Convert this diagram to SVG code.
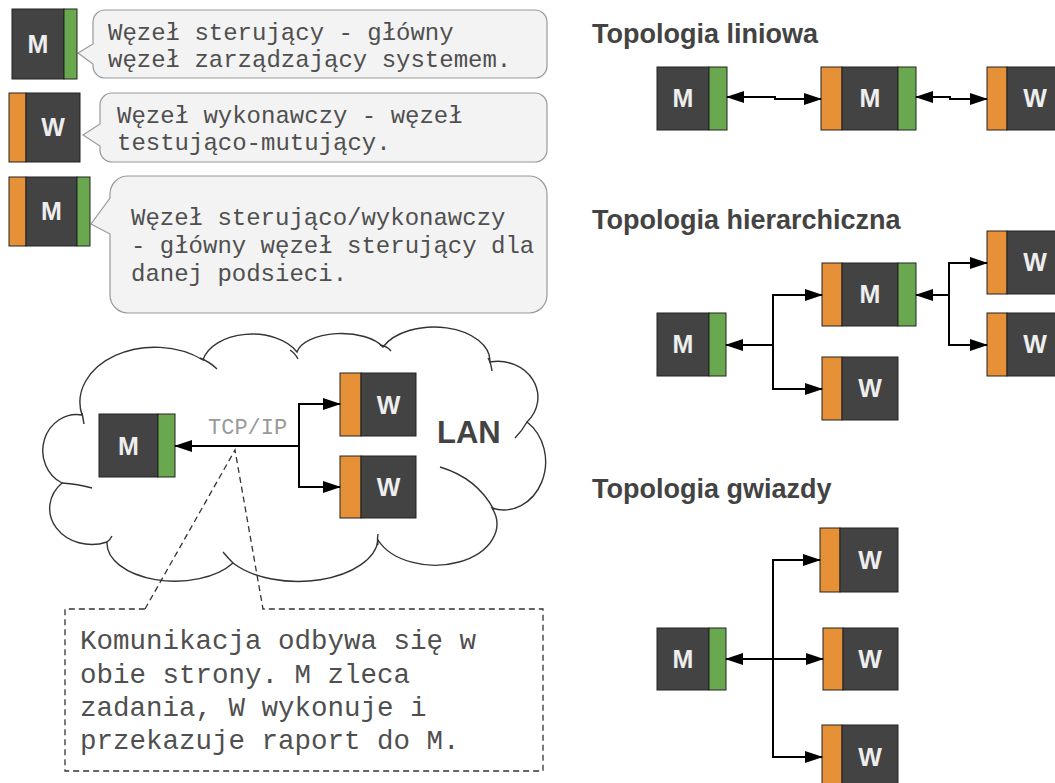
<svg xmlns="http://www.w3.org/2000/svg" width="1055" height="783" viewBox="0 0 1055 783">
<style>
.dk{fill:#434343;stroke:#222;stroke-width:1}
.or{fill:#e69138;stroke:#222;stroke-width:1}
.gr{fill:#6aa84f;stroke:#222;stroke-width:1}
.lbl{font-family:"Liberation Sans",Arial,sans-serif;font-weight:bold;font-size:25px;fill:#eeeeee;text-anchor:middle}
.ttl{font-family:"Liberation Sans",Arial,sans-serif;font-weight:bold;font-size:27px;fill:#434343}
.mono{font-family:"Liberation Mono","Courier New",monospace;font-size:24px;fill:#4f4f4f}
.bub{fill:#f3f3f3;stroke:#999;stroke-width:1.2}
.con{fill:none;stroke:#000;stroke-width:2}
.cloud{fill:#fff;stroke:#333;stroke-width:1.4}
.tail{fill:none;stroke:#333;stroke-width:1.4}
.dash{fill:none;stroke:#333;stroke-width:1.3;stroke-dasharray:6 4}
</style>
<defs>
<marker id="ah" markerUnits="userSpaceOnUse" markerWidth="18" markerHeight="12" refX="17" refY="6" orient="auto-start-reverse">
<path d="M0,0 L18,6 L0,12 Z" fill="#000"/>
</marker>
</defs>

<!-- Legend -->
<g id="legend-bubble-1">
<path class="bub" d="M105,10 H535 A12,12 0 0 1 547,22 V66 A12,12 0 0 1 535,78 H105 A12,12 0 0 1 93,66 V64 L78,53 L93,44 V22 A12,12 0 0 1 105,10 Z"/>
<text class="mono" x="108" y="40">Węzeł sterujący - główny</text>
<text class="mono" x="108" y="67">węzeł zarządzający systemem.</text>
</g>
<g id="legend-bubble-2">
<path class="bub" d="M112,93 H535 A12,12 0 0 1 547,105 V150 A12,12 0 0 1 535,162 H112 A12,12 0 0 1 100,150 V146 L83,135 L100,124 V105 A12,12 0 0 1 112,93 Z"/>
<text class="mono" x="117" y="123">Węzeł wykonawczy - węzeł</text>
<text class="mono" x="117" y="150">testująco-mutujący.</text>
</g>
<g id="legend-bubble-3">
<path class="bub" d="M128,176 H529 A18,18 0 0 1 547,194 V295 A18,18 0 0 1 529,313 H128 A18,18 0 0 1 110,295 V234 L91,224 L110,198 V194 A18,18 0 0 1 128,176 Z"/>
<text class="mono" x="131" y="225">Węzeł sterująco/wykonawczy</text>
<text class="mono" x="131" y="253">- główny węzeł sterujący dla</text>
<text class="mono" x="131" y="281">danej podsieci.</text>
</g>
<g id="legend-m">
<rect class="dk" x="12" y="9" width="52" height="70"/>
<rect class="gr" x="64" y="9" width="13" height="70"/>
<text class="lbl" x="38" y="53">M</text>
</g>
<g id="legend-w">
<rect class="or" x="9" y="93" width="17" height="69"/>
<rect class="dk" x="26" y="93" width="54" height="69"/>
<text class="lbl" x="53" y="136">W</text>
</g>
<g id="legend-mw">
<rect class="or" x="9" y="177" width="17" height="69"/>
<rect class="dk" x="26" y="177" width="51" height="69"/>
<rect class="gr" x="77" y="177" width="13" height="69"/>
<text class="lbl" x="51.5" y="220">M</text>
</g>

<!-- LAN cloud -->
<g id="lan-cloud">
<path class="cloud" d="M82,415 A75,55 0 0 1 203,360 A50,32 0 0 1 297,352 A45,22 0 0 1 383,347 A56,34 0 0 1 490,362 A40,36 0 0 1 527,422 A42,48 0 0 1 492,508 A60,40 0 0 1 378,540 A80,44 0 0 1 233,563 A68,38 0 0 1 107,542 A42,36 0 0 1 62,483 A34,36 0 0 1 82,415 Z"/>
<path class="tail" d="M200,358 Q210,362 217,369 M290,350 Q295,353 298,359 M380,345 Q387,346 391,351 M488,358 Q491,363 492,371 M527,422 Q522,431 515,438 M440,467 Q477,478 494,510 M378,545 Q377,540 378,534 M233,563 Q228,558 223,552 M107,542 Q110,540 112,536 M62,483 Q78,484 92,488 M82,413 Q83,418 84,424"/>
<text x="437" y="443" style="font-family:'Liberation Sans',Arial,sans-serif;font-weight:bold;font-size:31px;fill:#434343">LAN</text>
</g>
<g id="lan-m">
<rect class="dk" x="99" y="414" width="59" height="63"/>
<rect class="gr" x="158" y="414" width="17" height="63"/>
<text class="lbl" x="128.5" y="455">M</text>
</g>
<g id="lan-w1">
<rect class="or" x="340" y="373" width="21" height="63"/>
<rect class="dk" x="361" y="373" width="55" height="63"/>
<text class="lbl" x="388.5" y="414">W</text>
</g>
<g id="lan-w2">
<rect class="or" x="340" y="456" width="21" height="62"/>
<rect class="dk" x="361" y="456" width="55" height="62"/>
<text class="lbl" x="388.5" y="496">W</text>
</g>

<!-- Note callout -->
<g id="note">
<path class="dash" d="M145,609 L235,450 L263,609 H543 V771 H65 V609 Z"/>
<text class="mono" style="font-size:27.5px" x="80" y="649">Komunikacja odbywa się w</text>
<text class="mono" style="font-size:27.5px" x="80" y="683">obie strony. M zleca</text>
<text class="mono" style="font-size:27.5px" x="80" y="716">zadania, W wykonuje i</text>
<text class="mono" style="font-size:27.5px" x="80" y="749">przekazuje raport do M.</text>
</g>

<!-- Titles -->
<text class="ttl" x="592" y="43">Topologia liniowa</text>
<text class="ttl" x="592" y="229">Topologia hierarchiczna</text>
<text class="ttl" x="592" y="498">Topologia gwiazdy</text>

<!-- Linear topology -->
<g id="lin-m1">
<rect class="dk" x="657" y="67" width="52" height="63"/>
<rect class="gr" x="709" y="67" width="18" height="63"/>
<text class="lbl" x="683" y="107">M</text>
</g>
<g id="lin-m2">
<rect class="or" x="821" y="67" width="21" height="63"/>
<rect class="dk" x="842" y="67" width="56" height="63"/>
<rect class="gr" x="898" y="67" width="18" height="63"/>
<text class="lbl" x="870" y="107">M</text>
</g>
<g id="lin-w">
<rect class="or" x="987" y="67" width="20" height="63"/>
<rect class="dk" x="1007" y="67" width="56" height="63"/>
<text class="lbl" x="1035" y="107">W</text>
</g>

<!-- Hierarchical topology -->
<g id="hier-m-left">
<rect class="dk" x="657" y="313" width="52" height="63"/>
<rect class="gr" x="709" y="313" width="17" height="63"/>
<text class="lbl" x="683" y="353">M</text>
</g>
<g id="hier-m-mid">
<rect class="or" x="822" y="263" width="20" height="63"/>
<rect class="dk" x="842" y="263" width="56" height="63"/>
<rect class="gr" x="898" y="263" width="18" height="63"/>
<text class="lbl" x="870" y="303">M</text>
</g>
<g id="hier-w-mid">
<rect class="or" x="822" y="357" width="20" height="63"/>
<rect class="dk" x="842" y="357" width="56" height="63"/>
<text class="lbl" x="870" y="397">W</text>
</g>
<g id="hier-w-top">
<rect class="or" x="987" y="231" width="20" height="63"/>
<rect class="dk" x="1007" y="231" width="56" height="63"/>
<text class="lbl" x="1035" y="271">W</text>
</g>
<g id="hier-w-bot">
<rect class="or" x="987" y="313" width="20" height="63"/>
<rect class="dk" x="1007" y="313" width="56" height="63"/>
<text class="lbl" x="1035" y="353">W</text>
</g>

<!-- Star topology -->
<g id="star-m">
<rect class="dk" x="657" y="628" width="52" height="62"/>
<rect class="gr" x="709" y="628" width="17" height="62"/>
<text class="lbl" x="683" y="668">M</text>
</g>
<g id="star-w1">
<rect class="or" x="820" y="528" width="20" height="64"/>
<rect class="dk" x="840" y="528" width="58" height="64"/>
<text class="lbl" x="870" y="569">W</text>
</g>
<g id="star-w2">
<rect class="or" x="823" y="628" width="20" height="62"/>
<rect class="dk" x="843" y="628" width="55" height="62"/>
<text class="lbl" x="870" y="668">W</text>
</g>
<g id="star-w3">
<rect class="or" x="822" y="725" width="20" height="64"/>
<rect class="dk" x="842" y="725" width="56" height="64"/>
<text class="lbl" x="870" y="766">W</text>
</g>

<!-- Connectors -->
<g id="connectors">
<path class="con" d="M299,446 H175" marker-end="url(#ah)"/>
<path class="con" d="M299,446 V404 H340" marker-end="url(#ah)"/>
<path class="con" d="M299,446 V487 H340" marker-end="url(#ah)"/>
<text x="208" y="434" style="font-family:'Liberation Mono','Courier New',monospace;font-size:22px;fill:#999">TCP/IP</text>

<path class="con" d="M727,97 H775 V99 H821" marker-start="url(#ah)" marker-end="url(#ah)"/>
<path class="con" d="M916,97 H950 V99 H987" marker-start="url(#ah)" marker-end="url(#ah)"/>

<path class="con" d="M773,345 H726" marker-end="url(#ah)"/>
<path class="con" d="M773,345 V295 H822" marker-end="url(#ah)"/>
<path class="con" d="M773,345 V389 H822" marker-end="url(#ah)"/>
<path class="con" d="M949,295 H916" marker-end="url(#ah)"/>
<path class="con" d="M949,295 V263 H987" marker-end="url(#ah)"/>
<path class="con" d="M949,295 V345 H987" marker-end="url(#ah)"/>

<path class="con" d="M773,659 H726" marker-end="url(#ah)"/>
<path class="con" d="M773,659 V560 H820" marker-end="url(#ah)"/>
<path class="con" d="M773,659 H823" marker-end="url(#ah)"/>
<path class="con" d="M773,659 V757 H822" marker-end="url(#ah)"/>
</g>
</svg>
